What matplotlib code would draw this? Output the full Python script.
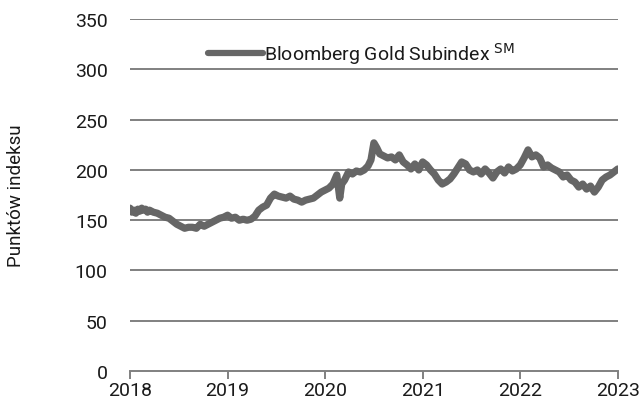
import matplotlib
matplotlib.use("Agg")
import matplotlib.pyplot as plt

plt.rcParams['font.family'] = ['Roboto', 'DejaVu Sans']

years = [2018.00, 2018.02, 2018.04, 2018.06, 2018.08, 2018.10, 2018.12, 2018.14, 2018.16, 2018.18,
         2018.20, 2018.24, 2018.28, 2018.32, 2018.36,
         2018.40, 2018.44, 2018.48, 2018.52, 2018.56, 2018.60, 2018.64, 2018.68, 2018.72, 2018.76,
         2018.80, 2018.84, 2018.88, 2018.92, 2018.96, 2019.00, 2019.04, 2019.08, 2019.12, 2019.16,
         2019.20, 2019.24, 2019.28, 2019.32, 2019.36, 2019.40, 2019.44, 2019.48, 2019.52, 2019.56,
         2019.60, 2019.64, 2019.68, 2019.72, 2019.76, 2019.80, 2019.84, 2019.88, 2019.92, 2019.96,
         2020.00, 2020.04, 2020.08, 2020.12, 2020.15, 2020.17, 2020.20, 2020.24, 2020.28, 2020.32,
         2020.36, 2020.40, 2020.44, 2020.47, 2020.50, 2020.53, 2020.56, 2020.60, 2020.64, 2020.68,
         2020.72, 2020.76, 2020.80, 2020.84, 2020.88, 2020.92, 2020.96, 2021.00, 2021.04, 2021.08,
         2021.12, 2021.16, 2021.20, 2021.24, 2021.28, 2021.32, 2021.36, 2021.40, 2021.44, 2021.48,
         2021.52, 2021.56, 2021.60, 2021.64, 2021.68, 2021.72, 2021.76, 2021.80, 2021.84, 2021.88,
         2021.92, 2021.96, 2022.00, 2022.04, 2022.08, 2022.12, 2022.16, 2022.20, 2022.24, 2022.28,
         2022.32, 2022.36, 2022.40, 2022.44, 2022.48, 2022.52, 2022.56, 2022.60, 2022.64, 2022.68,
         2022.72, 2022.76, 2022.80, 2022.84, 2022.88, 2022.92, 2022.96, 2023.00]
values = [162, 158, 160, 157, 161, 159, 162, 160, 161, 158,
          160, 158, 157, 155, 153,
          152, 149, 146, 144, 142, 143, 143, 142, 146, 144,
          146, 148, 150, 152, 153, 155, 152, 153, 150, 151,
          150, 151, 154, 160, 163, 165, 172, 176, 174, 173,
          172, 174, 171, 170, 168, 170, 171, 172, 175, 178,
          180, 182, 186, 195, 172, 186, 190, 198, 196, 199,
          198, 200, 204, 210, 227, 222, 216, 214, 212, 213,
          210, 215, 208, 205, 201, 206, 200, 208, 205, 200,
          196, 190, 186, 188, 191, 196, 202, 208, 206, 200,
          198, 200, 196, 201, 197, 192, 198, 201, 197, 203,
          199, 201, 205, 212, 220, 213, 215, 212, 203, 205,
          202, 200, 198, 193, 195, 190, 188, 183, 186, 181,
          184, 178, 183, 190, 193, 195, 198, 201]

fig = plt.figure(figsize=(6.41, 4.10), dpi=100)
ax = fig.add_axes([0.2028, 0.0927, 0.761, 0.858])

grid_c = '#808080'
line_c = '#666666'
txt_c = '#1a1a1a'

for yv in range(50, 351, 50):
    ax.axhline(yv, color=grid_c, lw=1.4, zorder=1)

ax.plot(years, values, color=line_c, lw=5.2, solid_joinstyle='round',
        solid_capstyle='round', zorder=3, label='Bloomberg Gold Subindex $^{\\rm SM}$')

ax.set_xlim(2018, 2023)
ax.set_ylim(0, 350)
ax.set_yticks(range(0, 351, 50))
ax.set_xticks(range(2018, 2024))
ax.set_xticklabels([str(y) for y in range(2018, 2024)])

for s in ['top', 'right', 'left']:
    ax.spines[s].set_visible(False)
ax.spines['bottom'].set_color(grid_c)
ax.spines['bottom'].set_linewidth(1.4)
ax.tick_params(axis='x', direction='out', length=6, width=1.4, color=grid_c,
               labelsize=14, labelcolor=txt_c, pad=1)
ax.tick_params(axis='y', length=0, labelsize=14, labelcolor=txt_c, pad=16)

ax.set_ylabel('Punktów indeksu', fontsize=13.5, color=txt_c)
ax.yaxis.set_label_coords(-0.215, 0.5)

leg = ax.legend(loc='upper center', bbox_to_anchor=(0.475, 0.99), frameon=False,
                fontsize=14, handlelength=2.8, handletextpad=0.1)
for t in leg.get_texts():
    t.set_color(txt_c)
for h in leg.get_lines():
    h.set_linewidth(4.5)

fig.savefig('out.png', dpi=100)
